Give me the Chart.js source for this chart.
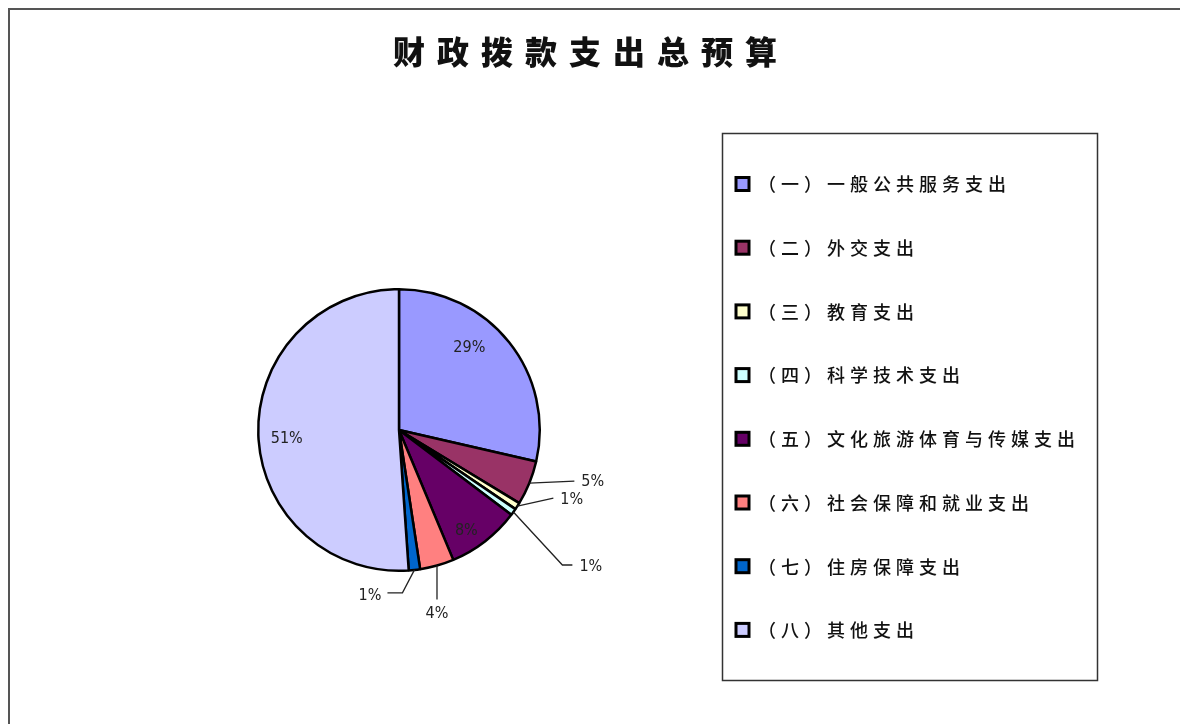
<!DOCTYPE html>
<html><head><meta charset="utf-8">
<script src="https://cdn.jsdelivr.net/npm/chart.js@4.4.1/dist/chart.umd.min.js"></script>
<style>html,body{margin:0;padding:0;background:#fff;overflow:hidden}#wrap{width:1180px;height:724px;position:relative}</style>
</head><body><div id="wrap"><canvas id="c" width="1180" height="724"></canvas></div>
<script>
const chartTitle = '财政拨款支出总预算';
const categories = ['（一）一般公共服务支出','（二）外交支出','（三）教育支出','（四）科学技术支出','（五）文化旅游体育与传媒支出','（六）社会保障和就业支出','（七）住房保障支出','（八）其他支出'];
const shares = [28.6, 5.1, 0.8, 0.8, 8.4, 3.9, 1.3, 51.1];
const percentLabels = ['29%','5%','1%','1%','8%','4%','1%','51%'];
const sliceColors = ['#9999FF','#993366','#FFFFCC','#CCFFFF','#660066','#FF8080','#0066CC','#CCCCFF'];

// label styling (relative to each slice's own geometry)
const labelStyle = [
  {mode:'in', r:0.77, da:-11},
  {mode:'out', path:[[45,-2]], align:'left', tdx:7, tdy:1},
  {mode:'out', path:[[36,-8]], align:'left', tdx:7, tdy:2},
  {mode:'out', path:[[49,53],[10,0]], align:'left', tdx:7, tdy:2},
  {mode:'in', r:0.86, da:4},
  {mode:'out', path:[[0,34]], align:'center', tdx:0, tdy:14},
  {mode:'out', path:[[-12,23],[-15,0]], align:'right', tdx:-6, tdy:3},
  {mode:'in', r:0.8, da:-2.5}
];

const decor = {
  id:'decor',
  beforeDraw(chart){
    const ctx = chart.ctx;
    ctx.save();
    ctx.fillStyle='#fff'; ctx.fillRect(0,0,chart.width,chart.height);
    ctx.strokeStyle='#555'; ctx.lineWidth=2;
    ctx.strokeRect(9,9,1200,760);
    // title
    ctx.fillStyle='#111';
    ctx.font='900 32px "Noto Sans CJK SC", sans-serif';
    ctx.textBaseline='middle'; ctx.textAlign='left';
    ctx.letterSpacing='12px';
    ctx.fillText(chartTitle, 393, 52);
    ctx.restore();
  },
  afterDraw(chart){
    const ctx = chart.ctx;
    const meta = chart.getDatasetMeta(0);
    ctx.save();
    ctx.letterSpacing='0px';
    // data labels
    ctx.font='16px "Liberation Sans Narrow", "DejaVu Sans Condensed", sans-serif';
    ctx.textBaseline='middle';
    meta.data.forEach((arc,i)=>{
      const st = labelStyle[i];
      const p = arc.getProps(['x','y','startAngle','endAngle','outerRadius'], true);
      const mid = (p.startAngle+p.endAngle)/2;
      ctx.fillStyle='#222';
      if(st.mode==='in'){
        const a = mid + st.da*Math.PI/180;
        const rr = p.outerRadius*st.r;
        ctx.textAlign='center';
        ctx.fillText(percentLabels[i], p.x+Math.cos(a)*rr, p.y+Math.sin(a)*rr);
      } else {
        let x = p.x+Math.cos(mid)*p.outerRadius, y = p.y+Math.sin(mid)*p.outerRadius;
        ctx.beginPath(); ctx.moveTo(x,y);
        st.path.forEach(([dx,dy])=>{x+=dx;y+=dy;ctx.lineTo(x,y);});
        ctx.strokeStyle='#222'; ctx.lineWidth=1.3; ctx.stroke();
        ctx.textAlign=st.align;
        ctx.fillText(percentLabels[i], x+st.tdx, y+st.tdy);
      }
    });
    // legend box
    ctx.strokeStyle='#333'; ctx.lineWidth=1.5;
    ctx.strokeRect(722.5,133.5,375,547);
    ctx.font='500 18px "Noto Sans CJK SC", sans-serif';
    ctx.letterSpacing='5px';
    ctx.textAlign='left'; ctx.textBaseline='middle';
    categories.forEach((lab,i)=>{
      const cy = 184.5 + i*63.7;
      ctx.fillStyle=sliceColors[i];
      ctx.fillRect(736,cy-7,13,13);
      ctx.strokeStyle='#000'; ctx.lineWidth=3;
      ctx.strokeRect(736,cy-7,13,13);
      ctx.fillStyle='#111';
      ctx.fillText(lab, 758, cy);
    });
    ctx.restore();
  }
};

new Chart(document.getElementById('c'), {
  type:'pie',
  data:{ labels:categories, datasets:[{ data:shares, backgroundColor:sliceColors, borderColor:'#000', borderWidth:2.5 }] },
  options:{
    responsive:false, animation:false, devicePixelRatio:1,
    layout:{padding:{left:257,right:639,top:288,bottom:152}},
    plugins:{legend:{display:false}, tooltip:{enabled:false}, title:{display:false}}
  },
  plugins:[decor]
});
</script></body></html>
